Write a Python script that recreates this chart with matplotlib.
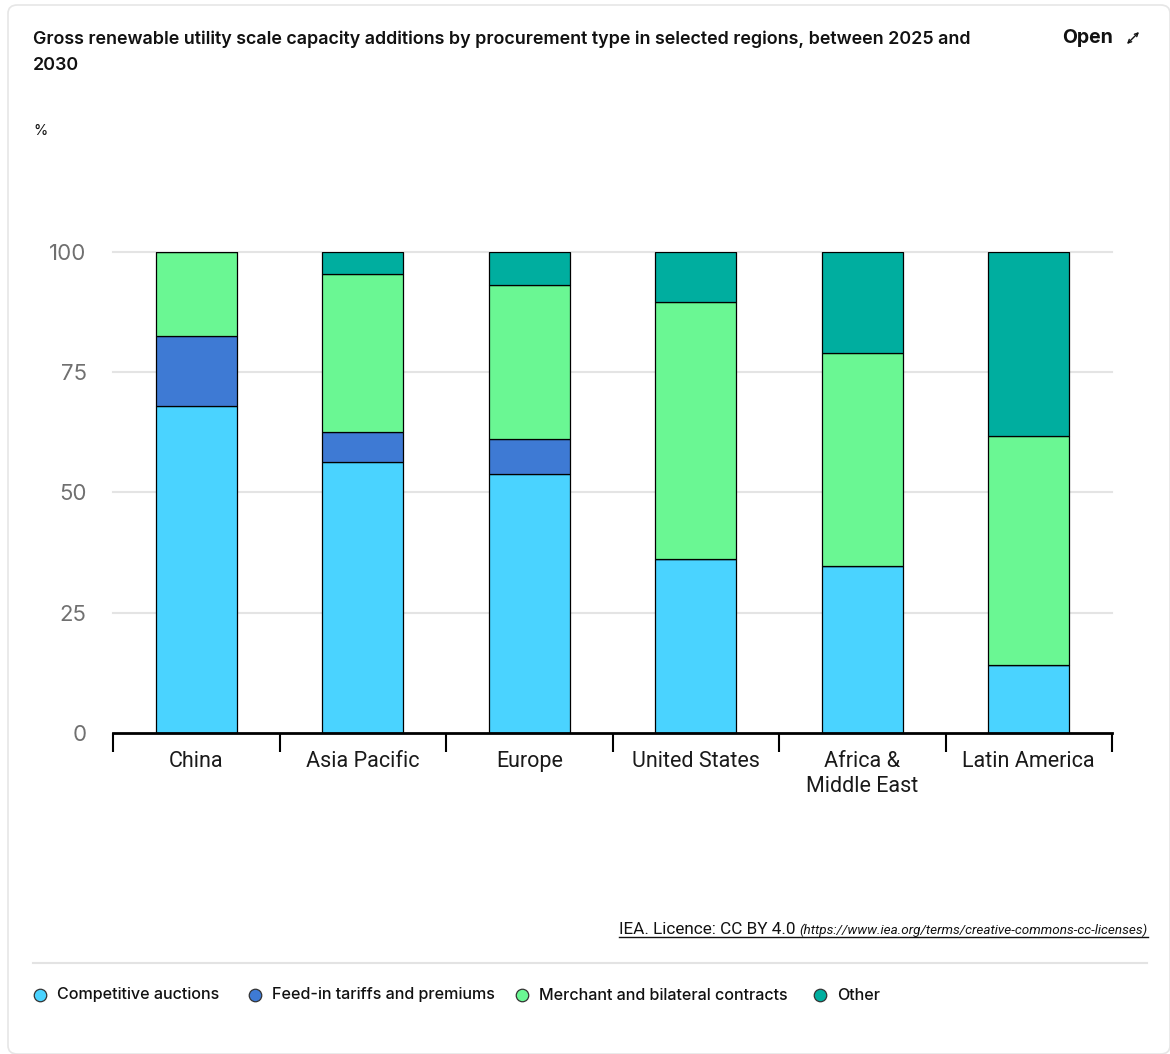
import matplotlib
matplotlib.use("Agg")
import matplotlib.pyplot as plt
from matplotlib.lines import Line2D
from matplotlib.patches import FancyBboxPatch
from matplotlib import font_manager

regions = ["China", "Asia Pacific", "Europe", "United States", "Africa &\nMiddle East", "Latin America"]
auctions = [68.0, 56.3, 53.8, 36.2, 34.7, 14.1]
feed_in = [14.5, 6.3, 7.3, 0.0, 0.0, 0.0]
merchant = [17.5, 32.8, 32.0, 53.4, 44.3, 47.6]
other = [0.0, 4.6, 6.9, 10.4, 21.0, 38.3]

series = [
    ("Competitive auctions", auctions, "#4ad3ff"),
    ("Feed-in tariffs and premiums", feed_in, "#3e7ad4"),
    ("Merchant and bilateral contracts", merchant, "#6af793"),
    ("Other", other, "#00ae9f"),
]
yticks = [0, 25, 50, 75, 100]

W, H = 1170, 1054
fig = plt.figure(figsize=(W / 100, H / 100), dpi=100)
fig.patch.set_facecolor("white")

# card outline and divider above the legend
card = FancyBboxPatch((8 / W, 0), (W - 8) / W, (H - 5) / H,
                      boxstyle="round,pad=0,rounding_size=0.008",
                      transform=fig.transFigure, facecolor="none",
                      edgecolor="#e6e6e6", lw=1.2)
fig.patches.append(card)
fig.add_artist(Line2D([33 / W, 1147 / W], [1 - 963 / H] * 2, color="#e3e3e3", lw=1.5,
                      transform=fig.transFigure))

left, right = 113 / W, 1112 / W
bottom = 1 - 733 / H
height = 481 / H
ax = fig.add_axes([left, bottom, right - left, height])
ax.set_xlim(-0.5, len(regions) - 0.5)
ax.set_ylim(0, 100)

x = list(range(len(regions)))
base = [0.0] * len(regions)
for name, vals, color in series:
    ax.bar(x, vals, width=0.487, bottom=base, color=color, edgecolor="black",
           linewidth=0.9, zorder=3)
    base = [b + v for b, v in zip(base, vals)]

for y in yticks[1:]:
    ax.axhline(y, color="#e4e4e4", lw=1.5, zorder=1, clip_on=False)

for s in ["top", "right", "left"]:
    ax.spines[s].set_visible(False)
ax.spines["bottom"].set_linewidth(2)
ax.spines["bottom"].set_zorder(4)

ax.set_yticks(yticks)
ax.set_yticklabels([str(v) for v in yticks], fontsize=16, color="#707070", family="Inter")
ax.tick_params(axis="y", length=0, pad=19)

ax.set_xticks(x)
ax.set_xticklabels(regions, fontsize=15.5, family="Roboto", color="#1a1a1a", linespacing=1.25)
ax.set_xticks([i - 0.5 for i in range(len(regions) + 1)], minor=True)
ax.tick_params(axis="x", which="major", length=0, pad=13)
ax.tick_params(axis="x", which="minor", length=14, width=1.5, color="black", direction="out")

fig.text(33 / W, 1 - 30 / H,
         "Gross renewable utility scale capacity additions by procurement type in selected regions, between 2025 and\n2030",
         fontsize=12.9, family="Inter", weight="semibold", color="#111111",
         va="top", ha="left", linespacing=1.75)
fig.text(1113 / W, 1 - 38 / H, "Open", fontsize=14, family="Inter", weight="bold",
         ha="right", va="center", color="#111111")

# expand icon: pick an installed family that carries the glyph, else draw it
icon = "\u2922"
icon_family = None
for fam in ["DejaVu Sans", "Noto Sans", "Noto Sans CJK SC", "Noto Sans CJK JP", "Liberation Sans",
            "Roboto", "Open Sans", "Lato", "Inter"]:
    try:
        path = font_manager.findfont(fam, fallback_to_default=False)
        ft = font_manager.get_font(path)
        if ft.get_char_index(ord(icon)):
            icon_family = fam
            break
    except Exception:
        continue
if icon_family:
    fig.text(1133 / W, 1 - 38 / H, icon, fontsize=12, family=icon_family,
             ha="center", va="center", color="#111111")
else:
    ax_icon = fig.add_axes([1127 / W, 1 - 44 / H, 12 / W, 12 / H])
    ax_icon.set_xlim(0, 1)
    ax_icon.set_ylim(0, 1)
    ax_icon.axis("off")
    ax_icon.annotate("", xy=(1, 1), xytext=(0, 0),
                     arrowprops=dict(arrowstyle="<->", lw=1.0, color="#111111",
                                     mutation_scale=6, shrinkA=0, shrinkB=0))

fig.text(33 / W, 1 - 131 / H, "%", fontsize=10.5, family="Inter", ha="left", va="center",
         color="#111111")

# source line, underlined
src_main = fig.text(619 / W, 1 - 929 / H, "IEA. Licence: CC BY 4.0 ", fontsize=12.3,
                    family="Roboto", ha="left", va="center", color="#111111")
renderer = fig.canvas.get_renderer()
bb = src_main.get_window_extent(renderer)
src_url = fig.text(bb.x1 / W, 1 - 930 / H,
                   "(https://www.iea.org/terms/creative-commons-cc-licenses)",
                   fontsize=9.7, family="Roboto", style="italic", ha="left", va="center",
                   color="#111111")
bb2 = src_url.get_window_extent(renderer)
uy = 1 - 937 / H
fig.add_artist(Line2D([bb.x0 / W, bb2.x1 / W], [uy, uy], color="#111111", lw=1,
                      transform=fig.transFigure))

# legend
legend_x = [40, 255, 522, 820]
ly = 1 - 995 / H
for (name, vals, color), lx in zip(series, legend_x):
    fig.add_artist(Line2D([lx / W], [ly], marker="o", markersize=9, markerfacecolor=color,
                          markeredgecolor="#333333", markeredgewidth=0.9,
                          transform=fig.transFigure))
    fig.text((lx + 17) / W, ly, name, fontsize=11.6, family="Inter", weight="medium",
             ha="left", va="center", color="#111111")

fig.savefig("out.png", dpi=100, facecolor="white")
